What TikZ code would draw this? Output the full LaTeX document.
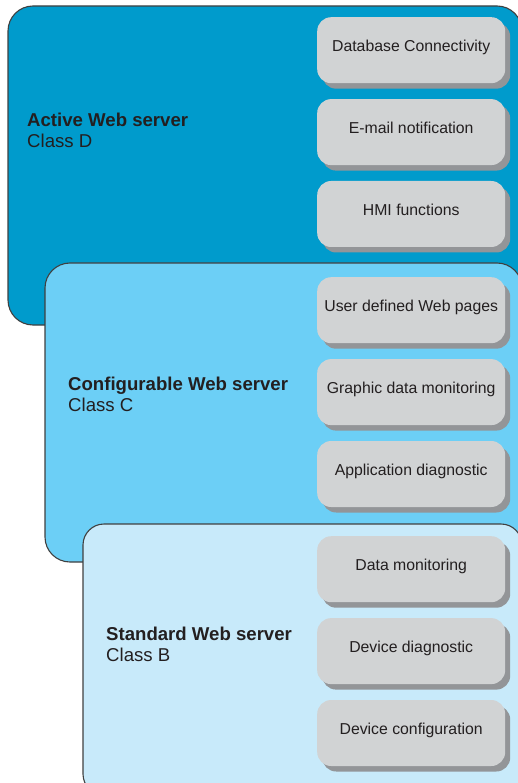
\documentclass[tikz,border=0pt]{standalone}
\usepackage{fontspec}
\setmainfont{Liberation Sans}
\usetikzlibrary{positioning,shadows}
\definecolor{classD}{RGB}{0,155,204}
\definecolor{classC}{RGB}{108,207,246}
\definecolor{classB}{RGB}{200,234,250}
\definecolor{boxgray}{RGB}{209,211,212}
\definecolor{shadegray}{RGB}{147,149,152}
\definecolor{edgegray}{RGB}{64,64,64}
\definecolor{ink}{RGB}{35,31,32}
\tikzset{
  layer/.style={draw=edgegray,line width=1.1pt,rounded corners=25pt},
  hdr/.style={anchor=north west,inner sep=0pt,align=left,text=ink,font=\fontsize{18.6}{21}\selectfont},
  func/.style={fill=boxgray,rounded corners=14pt,minimum width=188pt,minimum height=66pt,inner sep=0pt,
    text height=11.5pt,text depth=8pt,text=ink,font=\fontsize{15.8}{19}\selectfont,
    drop shadow={shadow xshift=5pt,shadow yshift=-5.5pt,fill=shadegray,opacity=1}},
}
\begin{document}
\begin{tikzpicture}[x=1pt,y=-1pt]
\useasboundingbox (0,0) rectangle (518,783);
% class D
\draw[layer,fill=classD](8,6) rectangle (522,325);
\node[hdr] (hdrD) at (27,113) {\textbf{Active Web server}\\Class D};
\node[func,anchor=north west] (dbconn) at (317,17) {Database Connectivity};
\node[func,below=15.5pt of dbconn] (email) {E-mail notification};
\node[func,below=15.5pt of email] (hmi) {HMI functions};
% class C
\draw[layer,fill=classC](45,263) rectangle (522,562);
\node[hdr] (hdrC) at (68,377) {\textbf{Configurable Web server}\\Class C};
\node[func,anchor=north west] (userweb) at (317,277) {User defined Web pages};
\node[func,below=15.5pt of userweb] (graphmon) {Graphic data monitoring};
\node[func,below=15.5pt of graphmon] (appdiag) {Application diagnostic};
% class B
\draw[layer,rounded corners=21pt,fill=classB](83,524) rectangle (522,795);
\node[hdr] (hdrB) at (106,627) {\textbf{Standard Web server}\\Class B};
\node[func,anchor=north west] (datamon) at (317,536) {Data monitoring};
\node[func,below=15.5pt of datamon] (devdiag) {Device diagnostic};
\node[func,below=15.5pt of devdiag] (devconf) {Device configuration};
\end{tikzpicture}
\end{document}
